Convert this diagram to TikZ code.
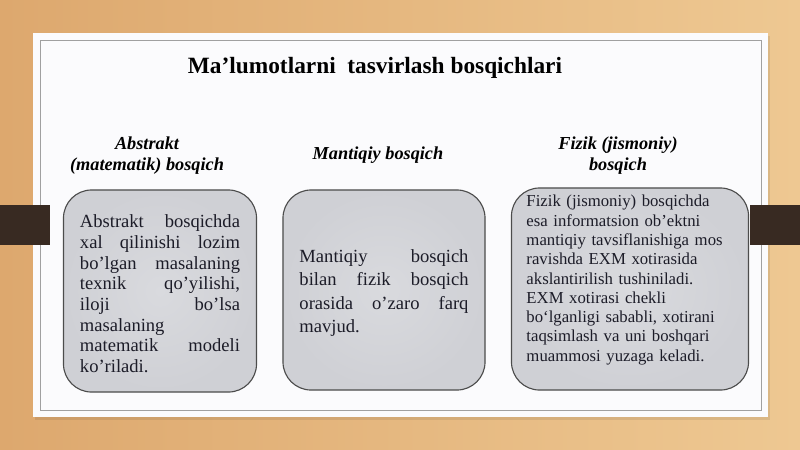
\documentclass[tikz,border=0pt]{standalone}
\usepackage{fontspec}
\setmainfont{Liberation Serif}
\usepackage{tikz}
\usetikzlibrary{calc}

\definecolor{woodleft}{RGB}{221,168,110}
\definecolor{woodright}{RGB}{238,200,146}
\definecolor{woodbar}{RGB}{56,42,34}
\definecolor{panelwhite}{RGB}{251,251,253}
\definecolor{framegray}{RGB}{160,160,160}
\definecolor{boxinner}{RGB}{217,218,222}
\definecolor{boxouter}{RGB}{207,208,213}
\definecolor{boxtext}{RGB}{28,28,40}

\tikzset{
  stagebox/.style={draw=black!70, inner color=boxinner, outer color=boxouter, line width=0.8pt, rounded corners=20pt},
  stagehead/.style={font=\bfseries\itshape\fontsize{13}{15}\selectfont, align=center},
  stagetext/.style={text=boxtext, inner sep=0pt, align=left},
}
\newcommand\wsep{\hskip 0.25em plus 1filll\relax}

\begin{document}
\begin{tikzpicture}[x=0.025cm,y=-0.025cm]
        \useasboundingbox (0,0) rectangle (800,449);
        \shade[left color=woodleft, right color=woodright] (0,0) rectangle (800,449);
        \coordinate (P1) at (33,33);
        \coordinate (P2) at (768,417);
        \fill[black, opacity=0.08] ($(P1)+(2,3)$) rectangle ($(P2)+(2,3)$);
        \fill[panelwhite] (P1) rectangle (P2);
        \draw[framegray, line width=0.6pt] ($(P1)+(7,7)$) rectangle ($(P2)+(-7,-7)$);
        \fill[woodbar] (0,205) rectangle (50,245);
        \fill[woodbar] (750,205) rectangle (800,245);
        \node[font=\bfseries\fontsize{16.6}{20}\selectfont] (title) at (375,68) {Ma’lumotlarni~ tasvirlash bosqichlari};
        \begin{scope}
        \coordinate (H) at (147,156);
        \coordinate (B) at (160,291);
        \node[stagehead] (head1) at (H) {Abstrakt\\(matematik) bosqich};
        \node[stagebox, minimum width=4.825cm, minimum height=5.05cm] (box1) at (B) {};
        \node[stagetext, text width=4cm, font=\fontsize{13.2}{14.7}\selectfont] (text1) at ($(B)+(0,3)$) {Abstrakt\wsep bosqichda\\
          xal\wsep qilinishi\wsep lozim\\
          bo’lgan\wsep masalaning\\
          texnik\wsep qo’yilishi,\\
          iloji\wsep bo’lsa\\
          masalaning\\
          matematik\wsep modeli\\
          ko’riladi.};
        \end{scope}

        \begin{scope}
        \coordinate (H) at (378,155);
        \coordinate (B) at (384,290);
        \node[stagehead] (head2) at (H) {Mantiqiy bosqich};
        \node[stagebox, minimum width=5.05cm, minimum height=5cm] (box2) at (B) {};
        \node[stagetext, text width=4.225cm, font=\fontsize{13.2}{16.4}\selectfont] (text2) at ($(B)+(0,3)$) {Mantiqiy\wsep bosqich\\
          bilan\wsep fizik\wsep bosqich\\
          orasida\wsep o’zaro\wsep farq\\
          mavjud.};
        \end{scope}

        \begin{scope}
        \coordinate (H) at (618,156);
        \coordinate (B) at (630,289);
        \node[stagehead] (head3) at (H) {Fizik (jismoniy)\\bosqich};
        \node[stagebox, minimum width=5.925cm, minimum height=5.05cm] (box3) at (B) {};
        \node[stagetext, text width=5.175cm, font=\fontsize{11.9}{13.7}\selectfont] (text3) at ($(B)+(0,-9)$) {Fizik (jismoniy) bosqichda\\
          esa informatsion ob’ektni\\
          mantiqiy tavsiflanishiga mos\\
          ravishda EXM xotirasida\\
          akslantirilish tushiniladi.\\
          EXM xotirasi chekli\\
          bo‘lganligi sababli, xotirani\\
          taqsimlash va uni boshqari\\
          muammosi yuzaga keladi.};
        \end{scope}
\end{tikzpicture}
\end{document}
